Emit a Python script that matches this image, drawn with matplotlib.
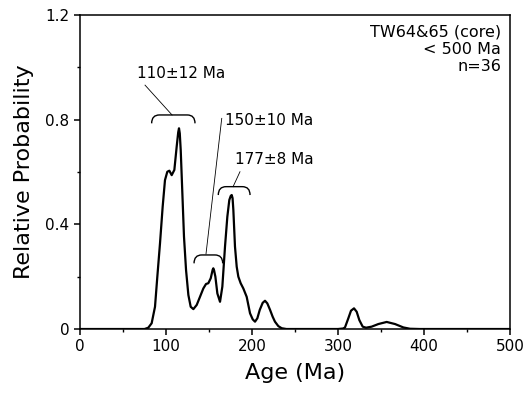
# relative probability plot of zircon ages, TW64&65 core, < 500 Ma
import numpy as np
import matplotlib.pyplot as plt
from matplotlib.path import Path
from matplotlib.patches import PathPatch

# curve values (age in Ma, relative probability)
age = [0, 60, 75, 79.4, 83.3, 87.2, 89.9, 93, 96.1, 98.8, 101.5, 103.9, 106.6, 109.7,
       112.4, 114.2, 115.1, 116.0, 117.1, 119, 120.9, 123.3, 126, 128.7, 131.8, 135.7,
       139.5, 143.4, 146.5, 149.2, 152, 154.2, 155, 155.9, 157.4, 159.7, 162.8, 165.5,
       168.6, 171.3, 173.6, 175.3, 176.4, 177.4, 178.3, 180.2, 182.2, 184.1, 186.8, 189.9,
       193.8, 197.7, 200.8, 203.5, 206.2, 209, 212.4, 215.1, 217.8, 221, 224, 226.7, 230.6,
       234.5, 240, 300, 306, 308.1, 312, 315.1, 318.6, 321.7, 324.8, 328.7, 332.6, 339.1,
       346.9, 356.6, 366.3, 376, 383.7, 395, 500]
prob = [0, 0, 0, 0.005, 0.022, 0.085, 0.2, 0.327, 0.467, 0.569, 0.601, 0.605, 0.588, 0.608,
        0.697, 0.752, 0.767, 0.748, 0.684, 0.519, 0.353, 0.225, 0.13, 0.085, 0.076, 0.092,
        0.123, 0.155, 0.172, 0.175, 0.194, 0.226, 0.232, 0.224, 0.2, 0.136, 0.104, 0.162,
        0.315, 0.429, 0.493, 0.509, 0.512, 0.5, 0.455, 0.315, 0.238, 0.2, 0.175, 0.155,
        0.123, 0.06, 0.037, 0.028, 0.041, 0.073, 0.1, 0.108, 0.098, 0.073, 0.047, 0.028,
        0.011, 0.003, 0, 0, 0.002, 0.006, 0.041, 0.07, 0.079, 0.066, 0.034, 0.009, 0.005,
        0.009, 0.019, 0.027, 0.019, 0.006, 0.001, 0, 0]

# age groups marked with brackets
peak_labels = ["110\u00b112 Ma", "150\u00b110 Ma", "177\u00b18 Ma"]
bracket_left = [83.3, 132.6, 160.8]
bracket_right = [133.7, 165.9, 197.7]
bracket_top = [0.818, 0.283, 0.544]
label_x = [65.9, 168.6, 180.2]
label_y = [0.978, 0.795, 0.648]
leader_start = [(75.6, 0.932), (164.8, 0.805), (186.0, 0.601)]
leader_end = [(107.0, 0.818), (146.5, 0.287), (178.0, 0.544)]

sample_text = ["TW64&65 (core)", "< 500 Ma", "n=36"]

fig = plt.figure(figsize=(5.24, 3.99), dpi=100)
ax = fig.add_axes([0.1527, 0.1754, 0.8206, 0.787])

ax.plot(age, prob, color="black", lw=1.6, solid_joinstyle="round")

# brackets with rounded ends
for left, right, top in zip(bracket_left, bracket_right, bracket_top):
    drop = 0.032
    r = 9
    verts = [(left, top - drop), (left, top), (left + r, top),
             (right - r, top),
             (right, top), (right, top - drop)]
    codes = [Path.MOVETO, Path.CURVE3, Path.CURVE3, Path.LINETO, Path.CURVE3, Path.CURVE3]
    ax.add_patch(PathPatch(Path(verts, codes), fill=False, lw=1.0, color="black"))

# leader lines and labels
for text, tx, ty, p0, p1 in zip(peak_labels, label_x, label_y, leader_start, leader_end):
    ax.plot([p0[0], p1[0]], [p0[1], p1[1]], color="black", lw=0.6)
    ax.text(tx, ty, text, fontsize=11, ha="left", va="center")

# sample info in the top right corner
for i, line in enumerate(sample_text):
    ax.text(0.979, 0.93 - i * 0.0535, line, transform=ax.transAxes,
            fontsize=11.5, ha="right", va="baseline")

ax.set_xlim(0, 500)
ax.set_ylim(0, 1.2)
ax.set_xticks([0, 100, 200, 300, 400, 500])
ax.set_xticks([50, 150, 250, 350, 450], minor=True)
ax.set_yticks([0, 0.4, 0.8, 1.2])
ax.set_yticklabels(["0", "0.4", "0.8", "1.2"])
ax.set_yticks([0.2, 0.6, 1.0], minor=True)

ax.tick_params(which="major", direction="out", length=4, width=1.1, labelsize=11)
ax.tick_params(which="minor", direction="out", length=2.3, width=1.0)
for spine in ax.spines.values():
    spine.set_linewidth(1.1)

ax.set_xlabel("Age (Ma)", fontsize=16, labelpad=6)
ax.set_ylabel("Relative Probability", fontsize=16, labelpad=8)

fig.savefig("out.png", dpi=100)
